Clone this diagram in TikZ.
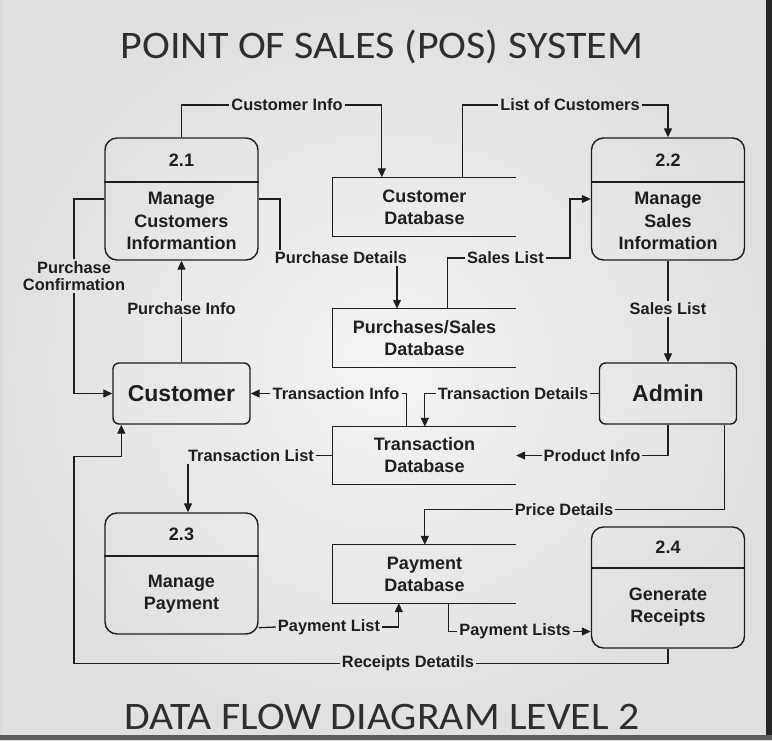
\documentclass[tikz,border=0pt]{standalone}
\usepackage{fontspec}
\setmainfont{Liberation Sans}
\newfontfamily\titlefont{Carlito}
\usetikzlibrary{arrows.meta,calc}
\definecolor{ink}{HTML}{1E1E1E}
\definecolor{bgin}{HTML}{F4F4F4}
\definecolor{bgout}{HTML}{E0E0E0}
\definecolor{barcol}{HTML}{5A5A56}
\definecolor{edgecol}{HTML}{262626}
\begin{document}
\begin{tikzpicture}[x=1pt,y=-1pt,
  every node/.style={text=ink},
  lbl/.style={font=\fontsize{16.4}{17}\selectfont\bfseries, inner sep=2pt, align=center},
  proc/.style={draw=ink, line width=1.4pt, rounded corners=12pt, minimum width=153pt, minimum height=122pt, inner sep=0pt},
  numtxt/.style={font=\fontsize{18}{20}\selectfont\bfseries},
  ptxt/.style={align=center, font=\fontsize{18}{22.5}\selectfont\bfseries},
  ext/.style={draw=ink, line width=1.4pt, rounded corners=6pt, minimum width=137pt, minimum height=61pt, font=\fontsize{23}{26}\selectfont\bfseries},
  store/.style={minimum width=183pt, minimum height=59pt, inner sep=0pt, align=center, font=\fontsize{18}{22}\selectfont\bfseries},
  flow/.style={draw=ink, line width=1.3pt},
  arr/.style={flow, -{Triangle[length=9pt,width=8pt]}},
  ttl/.style={font=\titlefont\fontsize{39}{40}\selectfont, text=black!82, inner sep=0pt}
]
\useasboundingbox (0,0) rectangle (772,740);
\shade[inner color=bgin, outer color=bgout] (0,0) rectangle (772,740);
\fill[edgecol] (766,0) rectangle (772,740);
\fill[barcol] (0,735) rectangle (772,740);
\fill[black!15] (0,0) rectangle (2,735);

% titles
\node[ttl, anchor=base] (title) at (382,58) {\scalebox{1.077}[1]{POINT OF SALES (POS) SYSTEM}};
\node[ttl, anchor=base] (subtitle) at (382,729) {\scalebox{1.07}[1]{DATA FLOW DIAGRAM LEVEL 2}};

% processes
\node[proc] (p21) at (181.5,199) {};
\draw[flow] (p21.west |- 0,182) -- (p21.east |- 0,182);
\node[numtxt] (n21) at (181.5,160) {2.1};
\node[ptxt] (t21) at (181.5,221) {Manage\\Customers\\Informantion};

\node[proc] (p22) at (668,199) {};
\draw[flow] (p22.west |- 0,182) -- (p22.east |- 0,182);
\node[numtxt] (n22) at (668,160) {2.2};
\node[ptxt] (t22) at (668,221) {Manage\\Sales\\Information};

\node[proc, minimum height=121pt] (p23) at (181.5,573.5) {};
\draw[flow] (p23.west |- 0,556) -- (p23.east |- 0,556);
\node[numtxt] (n23) at (181.5,534) {2.3};
\node[ptxt] (t23) at (181.5,594) {Manage\\Payment};

\node[proc, minimum height=121pt] (p24) at (668,587.5) {};
\draw[flow] (p24.west |- 0,568) -- (p24.east |- 0,568);
\node[numtxt] (n24) at (668,547) {2.4};
\node[ptxt] (t24) at (668,607) {Generate\\Receipts};

% externals
\node[ext] (cust) at (181.5,393.5) {Customer};
\node[ext] (adm) at (668,393.5) {Admin};

% stores
\node[store] (cdb) at (424.5,207) {Customer\\Database};
\node[store, minimum height=58pt] (psdb) at (424.5,338) {Purchases/Sales\\Database};
\node[store, minimum height=57pt] (tdb) at (424.5,455.5) {Transaction\\Database};
\node[store, minimum height=58pt] (pdb) at (424.5,574) {Payment\\Database};
\foreach \s in {cdb,psdb,tdb,pdb}
  \draw[flow] (\s.north east) -- (\s.north west) -- (\s.south west) -- (\s.south east);

% labels
\node[lbl] (ci) at (287,105) {Customer Info};
\node[lbl] (lc) at (570,105) {List of Customers};
\node[lbl] (sl1) at (505.5,258) {Sales List};
\node[lbl] (pd) at (341,258) {Purchase Details};
\node[lbl] (pc) at (74,276) {Purchase\\Confirmation};
\node[lbl] (pi) at (181.5,309) {Purchase Info};
\node[lbl] (sl2) at (668,309) {Sales List};
\node[lbl] (ti) at (336,393.5) {Transaction Info};
\node[lbl] (td) at (513,393.5) {Transaction Details};
\node[lbl] (pri) at (592,455.5) {Product Info};
\node[lbl] (tl) at (251,455.5) {Transaction List};
\node[lbl] (prd) at (564,509.5) {Price Details};
\node[lbl] (pl) at (329,627) {Payment List};
\node[lbl] (pls) at (515,631.5) {Payment Lists};
\node[lbl] (rd) at (408,663.5) {Receipts Detatils};

% flows
\draw[flow] (p21.north) |- (ci.west);
\draw[arr] (ci.east) -| ([xshift=49pt]cdb.north west);
\draw[flow] ([xshift=130pt]cdb.north west) |- (lc.west);
\draw[arr] (lc.east) -| (p22.north);
\draw[flow] ([xshift=115pt]psdb.north west) |- (sl1.west);
\draw[arr] (sl1.east) -| (570,199) -- (p22.west);
\draw[flow] (p21.east) -| ([xshift=-61pt]pd.north);
\draw[arr] ([xshift=56pt]pd.south) -- ([xshift=56pt]pd.south |- psdb.north);
\draw[flow] (p21.west) -| (pc.north);
\draw[arr] (pc.south) |- (cust.west);
\draw[flow] (cust.north) -- (pi.south);
\draw[arr] (pi.north) -- (p21.south);
\draw[flow] (p22.south) -- (sl2.north);
\draw[arr] (sl2.south) -- (adm.north);
\draw[flow] ([xshift=74pt]tdb.north west) |- (ti.east);
\draw[arr] (ti.west) -- (cust.east);
\draw[flow] (adm.west) -- (td.east);
\draw[arr] (td.west) -| ([xshift=92pt]tdb.north west);
\draw[flow] (adm.south) |- (pri.east);
\draw[arr] (pri.west) -- (tdb.east);
\draw[flow] (tdb.west) -- (tl.east);
\draw[arr] ([xshift=-63pt]tl.south) -- ([xshift=-63pt]tl.south |- p23.north);
\draw[flow] ([xshift=-13pt]adm.south east) |- (prd.east);
\draw[arr] (prd.west) -| ([xshift=92pt]pdb.north west);
\draw[flow] ($(p23.south east)+(0,-7)$) -- (pl.west);
\draw[arr] (pl.east) -| ([xshift=66pt]pdb.south west);
\draw[flow] ([xshift=116pt]pdb.south west) |- (pls.west);
\draw[arr] (pls.east) -- (pls.east -| p24.west);
\draw[flow] (p24.south) |- (rd.east);
\coordinate (rk) at (74,456.5);
\draw[arr] (rd.west) -| (rk) -| ([xshift=9pt]cust.south west);
\end{tikzpicture}
\end{document}
